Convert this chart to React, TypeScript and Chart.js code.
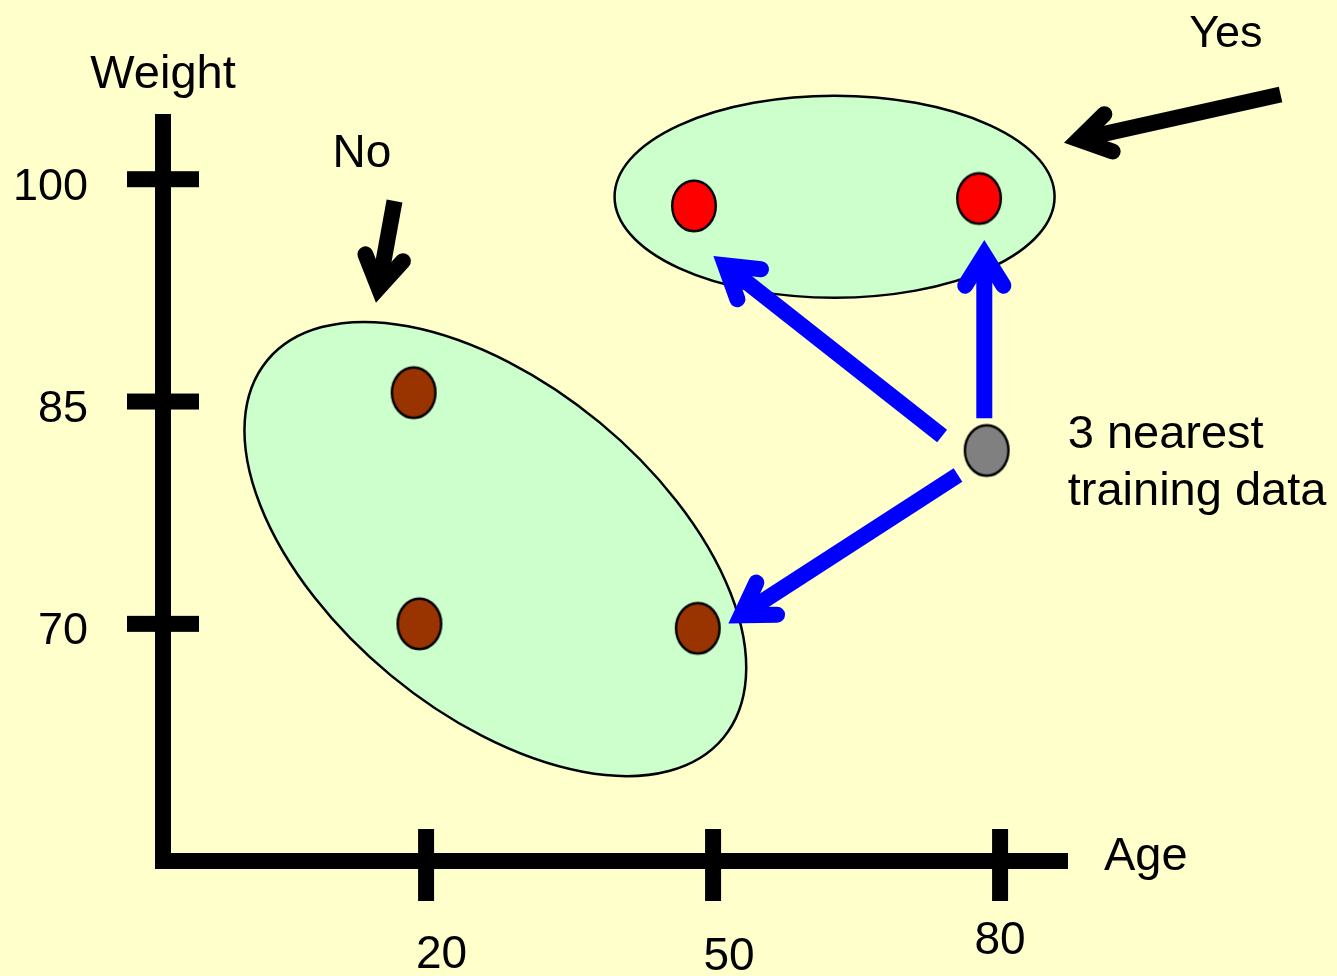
import React, { useEffect, useRef } from "react";
import { Chart, registerables } from "chart.js";

Chart.register(...registerables);

// ---------------- data ----------------
const yesAge = [48.0, 77.8];
const yesWeight = [98.2, 98.7];
const noAge = [18.7, 19.3, 48.4];
const noWeight = [85.6, 70.0, 69.7];
const queryAge = [78.6];
const queryWeight = [81.7];

const xTicks = [20, 50, 80];
const yTicks = [70, 85, 100];

const xTitle = "Age";
const yTitle = "Weight";

// annotation texts (data coordinates)
const noteLabels = ["Yes", "No", "3 nearest", "training data"];
const noteAge = [103.6, 13.3, 87.07, 87.07];
const noteWeight = [108.94, 100.84, 81.84, 78.02];

// arrows: start -> tip (data coordinates)
const arrowFromAge = [109.32, 16.7, 73.94, 78.35, 75.6];
const arrowFromWeight = [105.72, 98.53, 82.67, 83.87, 80.04];
const arrowToAge = [86.68, 14.76, 50.03, 78.35, 51.6];
const arrowToWeight = [102.46, 91.67, 94.82, 95.9, 70.03];

// cluster outlines centres (data coordinates)
const clusterAge = [62.7, 27.24];
const clusterWeight = [98.82, 75.05];

// ---------------- styles ----------------
const BG = "#FFFFCC";
const CLUSTER_FILL = "#CCFFCC";
const FONT = '"Liberation Sans", Arial, Helvetica, sans-serif';
const AXIS_W = 16;
const clusterStyle = [
  { rx: 220, ry: 101, rot: 0 },
  { rx: 296, ry: 164, rot: 39.6 },
];
const arrowColors = ["#000000", "#000000", "#0000FF", "#0000FF", "#0000FF"];
const noteAlign: CanvasTextAlign[] = ["center", "center", "left", "left"];
const noteSize = [45, 46, 47, 47];
const xLabelNudge = [
  { dx: 15.5, dy: 107 },
  { dx: 16, dy: 109 },
  { dx: 0, dy: 93 },
];

function makeDot(fill: string): HTMLCanvasElement {
  const c = document.createElement("canvas");
  c.width = 48;
  c.height = 56;
  const g = c.getContext("2d")!;
  g.beginPath();
  g.ellipse(24, 28, 21.8, 25.3, 0, 0, Math.PI * 2);
  g.fillStyle = fill;
  g.fill();
  g.lineWidth = 2.4;
  g.strokeStyle = "#000";
  g.stroke();
  return c;
}

function drawArrow(
  ctx: CanvasRenderingContext2D,
  sx: number,
  sy: number,
  tx: number,
  ty: number,
  color: string
) {
  const w = 16;
  const alpha = (32 * Math.PI) / 180;
  const L = 36;
  const dx = sx - tx;
  const dy = sy - ty;
  const len = Math.hypot(dx, dy);
  const ux = dx / len;
  const uy = dy / len;
  const off = w / 2 / Math.sin(alpha);
  const vx = tx + ux * off;
  const vy = ty + uy * off;
  const ca = Math.cos(alpha);
  const sa = Math.sin(alpha);
  const w1x = vx + L * (ux * ca - uy * sa);
  const w1y = vy + L * (ux * sa + uy * ca);
  const w2x = vx + L * (ux * ca + uy * sa);
  const w2y = vy + L * (-ux * sa + uy * ca);
  ctx.save();
  ctx.strokeStyle = color;
  ctx.lineWidth = w;
  ctx.lineCap = "butt";
  ctx.beginPath();
  ctx.moveTo(sx, sy);
  ctx.lineTo(vx, vy);
  ctx.stroke();
  ctx.lineCap = "round";
  ctx.lineJoin = "miter";
  ctx.miterLimit = 10;
  ctx.beginPath();
  ctx.moveTo(w1x, w1y);
  ctx.lineTo(vx, vy);
  ctx.lineTo(w2x, w2y);
  ctx.stroke();
  ctx.restore();
}

const diagramPlugin = {
  id: "knnDiagram",
  beforeDatasetsDraw(chart: any) {
    const { ctx, chartArea: a } = chart;
    const xs = chart.scales.x;
    const ys = chart.scales.y;
    ctx.save();
    // cluster outlines
    clusterAge.forEach((cx, i) => {
      const px = xs.getPixelForValue(cx);
      const py = ys.getPixelForValue(clusterWeight[i]);
      const st = clusterStyle[i];
      ctx.beginPath();
      ctx.ellipse(px, py, st.rx, st.ry, (st.rot * Math.PI) / 180, 0, Math.PI * 2);
      ctx.fillStyle = CLUSTER_FILL;
      ctx.fill();
      ctx.lineWidth = 2.5;
      ctx.strokeStyle = "#000";
      ctx.stroke();
    });
    // axes
    ctx.fillStyle = "#000";
    ctx.fillRect(a.left - AXIS_W / 2, a.top, AXIS_W, a.bottom + AXIS_W / 2 - a.top);
    ctx.fillRect(a.left - AXIS_W / 2, a.bottom - AXIS_W / 2, a.right - a.left + AXIS_W / 2, AXIS_W);
    // tick marks
    yTicks.forEach((v) => {
      const py = ys.getPixelForValue(v);
      ctx.fillRect(a.left - 36, py - AXIS_W / 2, 72, AXIS_W);
    });
    xTicks.forEach((v) => {
      const px = xs.getPixelForValue(v);
      ctx.fillRect(px - AXIS_W / 2, a.bottom - 32, AXIS_W, 72);
    });
    // tick labels
    ctx.textBaseline = "alphabetic";
    ctx.font = `45px ${FONT}`;
    ctx.textAlign = "right";
    yTicks.forEach((v) => {
      const py = ys.getPixelForValue(v);
      ctx.fillText(String(v), a.left - 75, py + 20.5);
    });
    ctx.textAlign = "center";
    ctx.font = `46px ${FONT}`;
    xTicks.forEach((v, i) => {
      const px = xs.getPixelForValue(v);
      ctx.fillText(String(v), px + xLabelNudge[i].dx, a.bottom + xLabelNudge[i].dy);
    });
    // axis titles
    ctx.font = `47px ${FONT}`;
    ctx.textAlign = "center";
    ctx.fillText(yTitle, a.left, a.top - 26);
    ctx.textAlign = "left";
    ctx.fillText(xTitle, a.right + 36, a.bottom + 9);
    ctx.restore();
  },
  afterDatasetsDraw(chart: any) {
    const { ctx } = chart;
    const xs = chart.scales.x;
    const ys = chart.scales.y;
    arrowFromAge.forEach((fx, i) => {
      drawArrow(
        ctx,
        xs.getPixelForValue(fx),
        ys.getPixelForValue(arrowFromWeight[i]),
        xs.getPixelForValue(arrowToAge[i]),
        ys.getPixelForValue(arrowToWeight[i]),
        arrowColors[i]
      );
    });
    ctx.save();
    ctx.fillStyle = "#000";
    ctx.textBaseline = "alphabetic";
    noteLabels.forEach((t, i) => {
      ctx.font = `${noteSize[i]}px ${FONT}`;
      ctx.textAlign = noteAlign[i];
      ctx.fillText(t, xs.getPixelForValue(noteAge[i]), ys.getPixelForValue(noteWeight[i]));
    });
    ctx.restore();
  },
};

export default function App() {
  const ref = useRef<HTMLCanvasElement | null>(null);
  useEffect(() => {
    document.body.style.margin = "0";
    const canvas = ref.current;
    if (!canvas) return;
    const pts = (xs: number[], ys: number[]) => xs.map((x, i) => ({ x, y: ys[i] }));
    const chart = new Chart(canvas, {
      type: "scatter",
      data: {
        datasets: [
          {
            label: "Yes",
            data: pts(yesAge, yesWeight),
            pointStyle: makeDot("#FF0000") as any,
            pointRadius: 24,
            clip: false as any,
          },
          {
            label: "No",
            data: pts(noAge, noWeight),
            pointStyle: makeDot("#993300") as any,
            pointRadius: 24,
            clip: false as any,
          },
          {
            label: "Query",
            data: pts(queryAge, queryWeight),
            pointStyle: makeDot("#808080") as any,
            pointRadius: 24,
            clip: false as any,
          },
        ],
      },
      options: {
        responsive: false,
        animation: false,
        events: [],
        layout: { padding: { left: 163, right: 269, top: 114, bottom: 115 } },
        scales: {
          x: { type: "linear", min: -7.5, max: 87.1, display: false },
          y: { type: "linear", min: 54, max: 104.4, display: false },
        },
        plugins: {
          legend: { display: false },
          tooltip: { enabled: false },
        },
      },
      plugins: [diagramPlugin],
    });
    return () => chart.destroy();
  }, []);
  return (
    <div
      style={{
        position: "absolute",
        left: 0,
        top: 0,
        width: 1337,
        height: 976,
        background: BG,
        overflow: "hidden",
      }}
    >
      <canvas ref={ref} width={1337} height={976} style={{ display: "block" }} />
    </div>
  );
}
